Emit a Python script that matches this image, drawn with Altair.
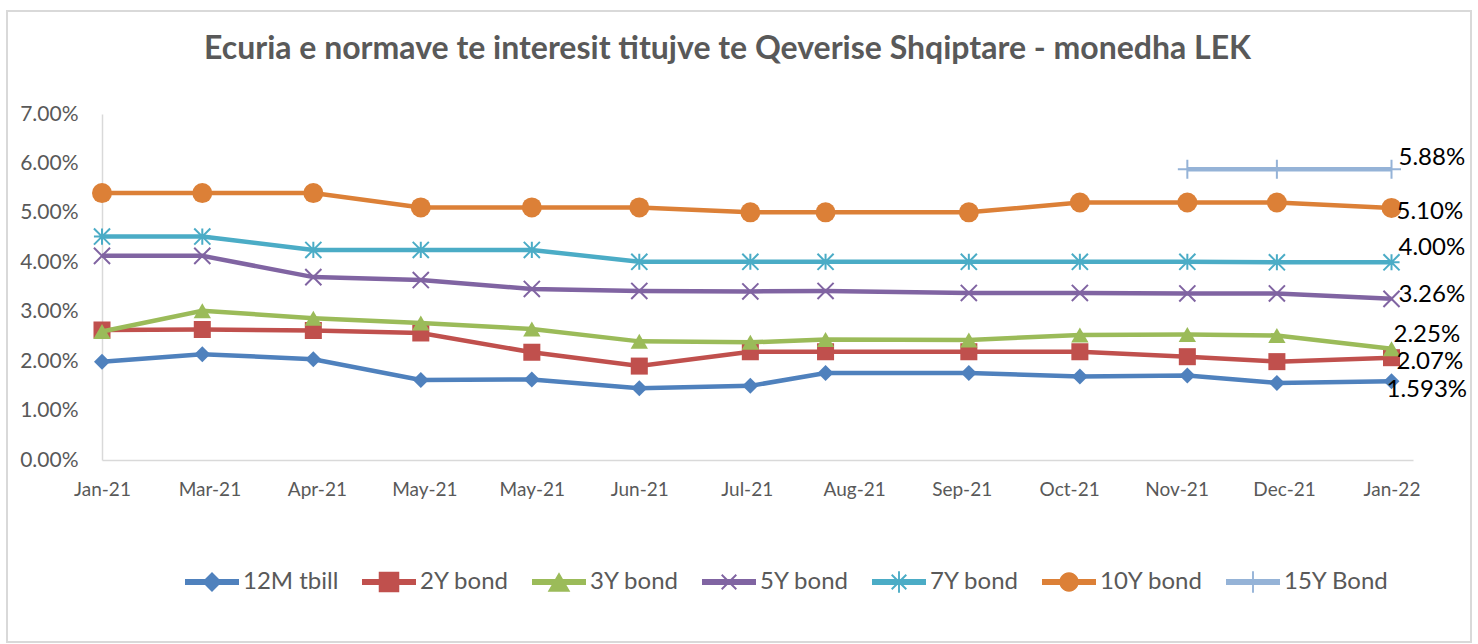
import math
import altair as alt
import pandas as pd

# ---------------- data ----------------
dates = ["2021-01-31", "2021-02-28", "2021-03-31", "2021-04-30", "2021-05-31",
         "2021-06-30", "2021-07-31", "2021-08-21", "2021-09-30", "2021-10-31",
         "2021-11-30", "2021-12-25", "2022-01-26"]

series_names = ["12M tbill", "2Y bond", "3Y bond", "5Y bond", "7Y bond", "10Y bond", "15Y Bond"]

tbill_12m = [1.99, 2.14, 2.04, 1.62, 1.63, 1.45, 1.50, 1.76, 1.76, 1.69, 1.71, 1.56, 1.593]
bond_2y = [2.63, 2.64, 2.62, 2.57, 2.18, 1.90, 2.19, 2.19, 2.19, 2.19, 2.09, 1.99, 2.07]
bond_3y = [2.60, 3.02, 2.87, 2.77, 2.65, 2.40, 2.38, 2.44, 2.43, 2.53, 2.54, 2.52, 2.25]
bond_5y = [4.13, 4.13, 3.70, 3.64, 3.46, 3.42, 3.41, 3.42, 3.38, 3.38, 3.37, 3.37, 3.26]
bond_7y = [4.52, 4.52, 4.25, 4.25, 4.25, 4.01, 4.01, 4.01, 4.01, 4.01, 4.01, 4.00, 4.00]
bond_10y = [5.40, 5.40, 5.40, 5.11, 5.11, 5.11, 5.01, 5.01, 5.01, 5.21, 5.21, 5.21, 5.10]
bond_15y = [None, None, None, None, None, None, None, None, None, None, 5.88, 5.88, 5.88]

end_labels = ["1.593%", "2.07%", "2.25%", "3.26%", "4.00%", "5.10%", "5.88%"]

tick_dates = ["2021-01-31", "2021-03-02", "2021-04-01", "2021-05-01", "2021-05-31",
              "2021-06-30", "2021-07-30", "2021-08-29", "2021-09-28", "2021-10-28",
              "2021-11-27", "2021-12-27", "2022-01-26"]
x_domain = ["2021-01-31", "2022-02-01"]
y_ticks = [0, 1, 2, 3, 4, 5, 6, 7]

title_text = "Ecuria e normave te interesit titujve te Qeverise Shqiptare - monedha LEK"

# ---------------- styles ----------------
colors = ["#4F81BD", "#C0504D", "#9BBB59", "#8064A2", "#4BACC6", "#DC8037", "#95B3D7"]
label_offsets = [(-5, 9), (5, 4), (2, -14), (7, -4), (7, -14), (5, 4), (7, -11)]
FONT = "Lato"
GREY = "#595959"
LIGHT = "#D9D9D9"

all_values = [tbill_12m, bond_2y, bond_3y, bond_5y, bond_7y, bond_10y, bond_15y]
rows = []
for name, vals in zip(series_names, all_values):
    for d, v in zip(dates, vals):
        if v is not None:
            rows.append({"date": d, "series": name, "value": v / 100.0})
df = pd.DataFrame(rows)

last_rows = []
for name, vals, lab in zip(series_names, all_values, end_labels):
    last_rows.append({"date": dates[-1], "series": name, "value": vals[-1] / 100.0, "label": lab})
df_last = pd.DataFrame(last_rows)


def dt(s):
    y, m, d = (int(p) for p in s.split("-"))
    return alt.DateTime(year=y, month=m, date=d, utc=True)


X = alt.X("date:T",
          scale=alt.Scale(type="utc", domain=[dt(s) for s in x_domain]),
          axis=alt.Axis(values=[dt(s) for s in tick_dates], format="%b-%y", title=None,
                        grid=False, ticks=False, tickSize=0, labelPadding=20,
                        labelFont=FONT, labelFontSize=19, labelColor=GREY,
                        domainColor=LIGHT, domainWidth=1.5, labelFlush=False,
                        labelOverlap=False))
Y = alt.Y("value:Q",
          scale=alt.Scale(domain=[0, 0.07], nice=False, zero=True),
          axis=alt.Axis(values=[v / 100.0 for v in y_ticks], format=".2%", title=None,
                        grid=False, ticks=False, tickSize=0, labelPadding=24,
                        labelFont=FONT, labelFontSize=21, labelColor=GREY,
                        domainColor=LIGHT, domainWidth=1.5))


# ---------------- marker shapes ----------------
def poly(pts):
    area = 0.0
    for i in range(len(pts)):
        x1, y1 = pts[i]
        x2, y2 = pts[(i + 1) % len(pts)]
        area += x1 * y2 - x2 * y1
    if area < 0:
        pts = pts[::-1]
    return "M" + "L".join(f"{x:.3f},{y:.3f}" for x, y in pts) + "Z"


def bar(x1, y1, x2, y2, t):
    dx, dy = x2 - x1, y2 - y1
    ln = math.hypot(dx, dy)
    nx, ny = -dy / ln * t, dx / ln * t
    return poly([(x1 + nx, y1 + ny), (x2 + nx, y2 + ny), (x2 - nx, y2 - ny), (x1 - nx, y1 - ny)])


def circ(r, n=28):
    return poly([(r * math.cos(2 * math.pi * k / n), r * math.sin(2 * math.pi * k / n)) for k in range(n)])


LT = 0.11
line_seg = poly([(-1, -LT), (1, -LT), (1, LT), (-1, LT)])
st = 0.035
legend_paths = [
    line_seg + poly([(-0.37, 0), (0, -0.37), (0.37, 0), (0, 0.37)]),
    line_seg + poly([(-0.38, -0.38), (0.38, -0.38), (0.38, 0.38), (-0.38, 0.38)]),
    line_seg + poly([(0, -0.36), (0.42, 0.36), (-0.42, 0.36)]),
    line_seg + bar(-0.27, -0.27, 0.27, 0.27, st) + bar(-0.27, 0.27, 0.27, -0.27, st),
    line_seg + bar(-0.27, -0.27, 0.27, 0.27, st) + bar(-0.27, 0.27, 0.27, -0.27, st)
    + bar(0, -0.4, 0, 0.4, st),
    line_seg + circ(0.36),
    line_seg + bar(0, -0.4, 0, 0.4, st),
]

chart_markers = [
    dict(shape="diamond", size=256, filled=True, strokeWidth=0),
    dict(shape="square", size=290, filled=True, strokeWidth=0),
    dict(shape="triangle-up", size=300, filled=True, strokeWidth=0),
    dict(shape="M-1,-1L1,1M-1,1L1,-1", size=260, filled=False, strokeWidth=2),
    dict(shape="M-1,-1L1,1M-1,1L1,-1M0,-1L0,1M-1,0L1,0", size=260, filled=False, strokeWidth=2),
    dict(shape="circle", size=400, filled=True, strokeWidth=0),
    dict(shape="M-1,0L1,0M0,-1L0,1", size=361, filled=False, strokeWidth=2),
]

# ---------------- layers ----------------
layers = []

frame = alt.Chart(pd.DataFrame({"k": [0]})).mark_rect(
    fillOpacity=0, stroke=LIGHT, strokeWidth=2
).encode(x=alt.value(-95), x2=alt.value(1369), y=alt.value(-103), y2=alt.value(528))
layers.append(frame)

for name, c, mk in zip(series_names, colors, chart_markers):
    base = alt.Chart(df).transform_filter(alt.datum.series == name)
    layers.append(base.mark_line(color=c, strokeWidth=4.5).encode(x=X, y=Y))
    layers.append(base.mark_point(color=c, opacity=1, **mk).encode(x=X, y=Y))

for name, (ox, oy) in zip(series_names, label_offsets):
    layers.append(
        alt.Chart(df_last).transform_filter(alt.datum.series == name).mark_text(
            align="left", baseline="middle", font=FONT, fontSize=24, color="#000000",
            dx=ox, dy=oy
        ).encode(x=X, y=Y, text="label:N")
    )

legend_def = alt.Legend(
    title=None, orient="none", legendX=83, legendY=441, direction="horizontal",
    symbolSize=2916, symbolStrokeWidth=0, symbolOpacity=1,
    labelFont=FONT, labelFontSize=24, labelColor=GREY, labelOffset=4,
    columnPadding=23, padding=0,
)
legend_layer = alt.Chart(df).transform_filter("datum.value > 1").mark_point(
    filled=True, opacity=1
).encode(
    x=X, y=Y,
    color=alt.Color("series:N", scale=alt.Scale(domain=series_names, range=colors),
                    legend=legend_def, sort=series_names),
    shape=alt.Shape("series:N", scale=alt.Scale(domain=series_names, range=legend_paths),
                    legend=legend_def, sort=series_names),
)
layers.append(legend_layer)

chart = alt.layer(*layers).properties(
    width=1311, height=346,
    padding={"left": 102, "top": 114, "right": 65, "bottom": 184},
    autosize=alt.AutoSizeParams(type="none"),
    title=alt.TitleParams(title_text, font=FONT, fontSize=32, fontWeight="bold",
                          color=GREY, anchor="middle", dx=-30, offset=0,
                          baseline="alphabetic", dy=81),
    background="white",
).configure_view(stroke=None)

chart.save("out.html", embed_options={"renderer": "svg", "actions": False})
